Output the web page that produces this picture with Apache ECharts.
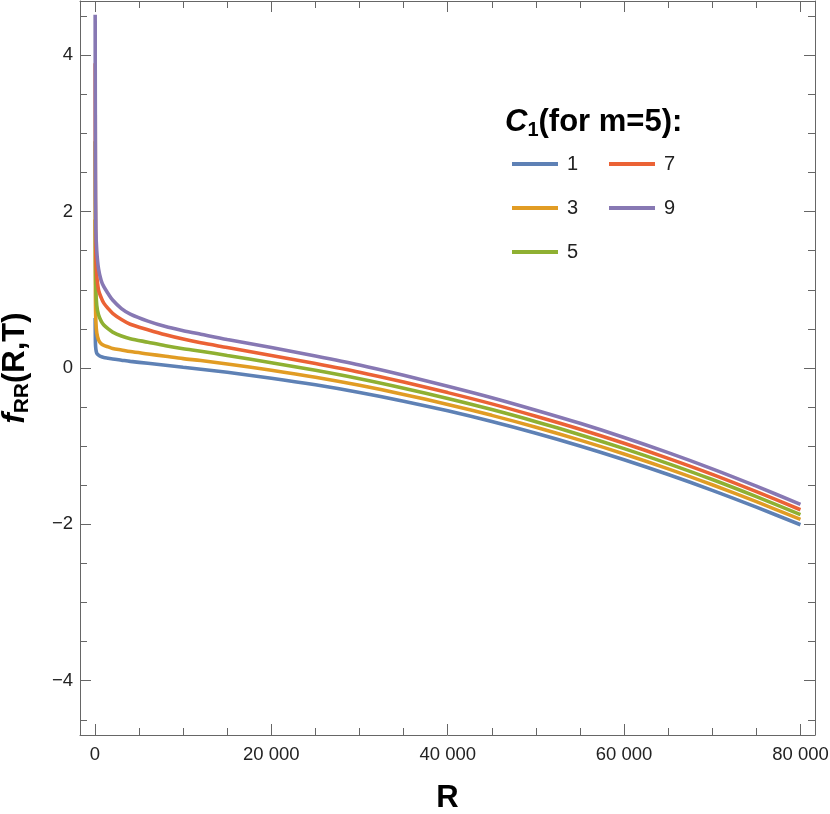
<!DOCTYPE html>
<html>
<head>
<meta charset="utf-8">
<script src="https://cdn.jsdelivr.net/npm/echarts@6/dist/echarts.min.js"></script>
<style>
  html, body { margin: 0; padding: 0; background: #fff; }
  #chart { width: 830px; height: 814px; }
</style>
</head>
<body>
<div id="chart"></div>
<script>
// R values (x) and f_RR values for each C1
const R = [20, 50, 100, 200, 400, 700, 1000, 1500, 2000, 3000, 4000, 6000, 8000, 10000, 12000,
  15000, 20000, 25000, 30000, 35000, 40000, 45000, 50000, 55000, 60000, 65000, 70000, 75000, 80000];
const c1 = [0.64, 0.32, 0.24, 0.19, 0.165, 0.145, 0.135, 0.125, 0.115, 0.10, 0.085, 0.06, 0.035, 0.01, -0.015,
  -0.055, -0.13, -0.215, -0.313, -0.424, -0.548, -0.685, -0.835, -0.998, -1.174, -1.363, -1.565, -1.78, -2.005];
const c3 = [1.9, 0.9, 0.6, 0.45, 0.36, 0.31, 0.29, 0.27, 0.25, 0.23, 0.21, 0.18, 0.15, 0.12, 0.095,
  0.052, -0.029, -0.119, -0.222, -0.338, -0.466, -0.606, -0.758, -0.923, -1.10, -1.29, -1.494, -1.71, -1.937];
const c5 = [2.9, 1.5, 1.0, 0.8, 0.68, 0.6, 0.55, 0.5, 0.46, 0.41, 0.375, 0.33, 0.285, 0.247, 0.215,
  0.16, 0.068, -0.03, -0.138, -0.259, -0.39, -0.532, -0.687, -0.853, -1.031, -1.223, -1.427, -1.646, -1.875];
const c7 = [3.9, 2.1, 1.4, 1.18, 1.0, 0.9, 0.83, 0.76, 0.70, 0.62, 0.56, 0.49, 0.425, 0.37, 0.322,
  0.262, 0.161, 0.057, -0.054, -0.18, -0.315, -0.459, -0.617, -0.783, -0.963, -1.156, -1.361, -1.582, -1.813];
const c9 = [4.52, 2.6, 1.78, 1.50, 1.27, 1.12, 1.04, 0.95, 0.87, 0.76, 0.69, 0.60, 0.53, 0.478, 0.432,
  0.364, 0.262, 0.153, 0.037, -0.094, -0.233, -0.38, -0.54, -0.708, -0.889, -1.083, -1.29, -1.512, -1.745];

const seriesNames = ["1", "3", "5", "7", "9"];
const seriesValues = [c1, c3, c5, c7, c9];
const colors = ["#5E81B5", "#E19C24", "#8FB032", "#EB6235", "#8778B3"];

// ticks
const xMajor = [0, 20000, 40000, 60000, 80000];
const xMajorLabels = ["0", "20 000", "40 000", "60 000", "80 000"];
const xMinor = [0, 5000, 10000, 15000, 20000, 25000, 30000, 35000, 40000, 45000, 50000, 55000, 60000, 65000, 70000, 75000, 80000];
const yMajor = [-4, -2, 0, 2, 4];
const yMajorLabels = ["\u22124", "\u22122", "0", "2", "4"];
const yMinor = [-4.5, -4, -3.5, -3, -2.5, -2, -1.5, -1, -0.5, 0, 0.5, 1, 1.5, 2, 2.5, 3, 3.5, 4, 4.5];

const FONT = "'Liberation Sans', Arial, sans-serif";
const xMin = -1700, xMax = 81650;
const yMin = -4.695, yMax = 4.695;
const frameColor = "#666";

let myCharts = echarts.init(document.getElementById("chart"));

// x axes: bottom major (labels), bottom minor, top major, top minor
function makeX(position, ticks, len, withLabels, withLine) {
  return {
    type: "value", position: position, min: xMin, max: xMax,
    splitLine: { show: false },
    axisLine: { show: withLine, onZero: false, lineStyle: { color: frameColor, width: 1 } },
    axisTick: { show: true, inside: true, length: len, customValues: ticks, lineStyle: { color: frameColor } },
    axisLabel: withLabels ? {
      show: true, customValues: xMajor, margin: 10, color: "#222", fontSize: 18.5, fontFamily: FONT,
      formatter: (v) => xMajorLabels[xMajor.indexOf(v)]
    } : { show: false },
  };
}
function makeY(position, ticks, len, withLabels, withLine) {
  return {
    type: "value", position: position, min: yMin, max: yMax,
    splitLine: { show: false },
    axisLine: { show: withLine, onZero: false, lineStyle: { color: frameColor, width: 1 } },
    axisTick: { show: true, inside: true, length: len, customValues: ticks, lineStyle: { color: frameColor } },
    axisLabel: withLabels ? {
      show: true, customValues: yMajor, margin: 7, color: "#222", fontSize: 18.5, fontFamily: FONT,
      formatter: (v) => yMajorLabels[yMajor.indexOf(v)]
    } : { show: false },
  };
}

let xAxes = [
  makeX("bottom", xMajor, 11, true, true),
  makeX("bottom", xMinor, 7, false, false),
  makeX("top", xMajor, 11, false, true),
  makeX("top", xMinor, 7, false, false),
];
xAxes[0].name = "R";
xAxes[0].nameLocation = "middle";
xAxes[0].nameGap = 48;
xAxes[0].nameTextStyle = { fontSize: 31, fontWeight: "bold", color: "#000", fontFamily: FONT };

let yAxes = [
  makeY("left", yMajor, 11, true, true),
  makeY("left", yMinor, 7, false, false),
  makeY("right", yMajor, 11, false, true),
  makeY("right", yMinor, 7, false, false),
];
yAxes[0].name = "{f|f}{s|RR}{n|(R,T)}";
yAxes[0].nameLocation = "middle";
yAxes[0].nameRotate = 90;
yAxes[0].nameGap = 47;
yAxes[0].nameTextStyle = {
  color: "#000", fontFamily: FONT,
  rich: {
    f: { fontSize: 31, fontWeight: "bold", fontStyle: "italic", fontFamily: FONT, lineHeight: 35, verticalAlign: "middle" },
    s: { fontSize: 21, fontWeight: "bold", fontFamily: FONT, lineHeight: 21, verticalAlign: "bottom" },
    n: { fontSize: 31, fontWeight: "bold", fontFamily: FONT, lineHeight: 35, verticalAlign: "middle" },
  },
};

let series = seriesNames.map((name, i) => ({
  name: name,
  type: "line",
  xAxisIndex: 0,
  yAxisIndex: 0,
  showSymbol: false,
  smooth: 0.3,
  lineStyle: { width: 3.6, color: colors[i] },
  itemStyle: { color: colors[i] },
  data: R.map((r, j) => [r, seriesValues[i][j]]),
}));

let legendCommon = {
  orient: "vertical",
  icon: "rect",
  itemWidth: 46,
  itemHeight: 4,
  itemGap: 24,
  textStyle: { fontSize: 20, fontFamily: FONT, color: "#222", lineHeight: 20, padding: [0, 0, 0, 4] },
};

let option = {
  animation: false,
  backgroundColor: "#fff",
  color: colors,
  title: {
    text: "{c|C}{s|1}{t|(for m=5):}",
    left: 500,
    top: 99,
    textStyle: {
      rich: {
        c: { fontSize: 31, fontWeight: "bold", fontStyle: "italic", fontFamily: FONT, color: "#000", lineHeight: 36, verticalAlign: "middle" },
        s: { fontSize: 20, fontWeight: "bold", fontFamily: FONT, color: "#000", lineHeight: 20, verticalAlign: "bottom" },
        t: { fontSize: 31, fontWeight: "bold", fontFamily: FONT, color: "#000", lineHeight: 36, verticalAlign: "middle" },
      },
    },
  },
  legend: [
    Object.assign({ left: 507, top: 149, data: ["1", "3", "5"] }, legendCommon),
    Object.assign({ left: 604, top: 149, data: ["7", "9"] }, legendCommon),
  ],
  grid: { left: 80, right: 15, top: 1, bottom: 79, outerBoundsMode: "none" },
  xAxis: xAxes,
  yAxis: yAxes,
  series: series,
};

myCharts.setOption(option);
</script>
</body>
</html>
